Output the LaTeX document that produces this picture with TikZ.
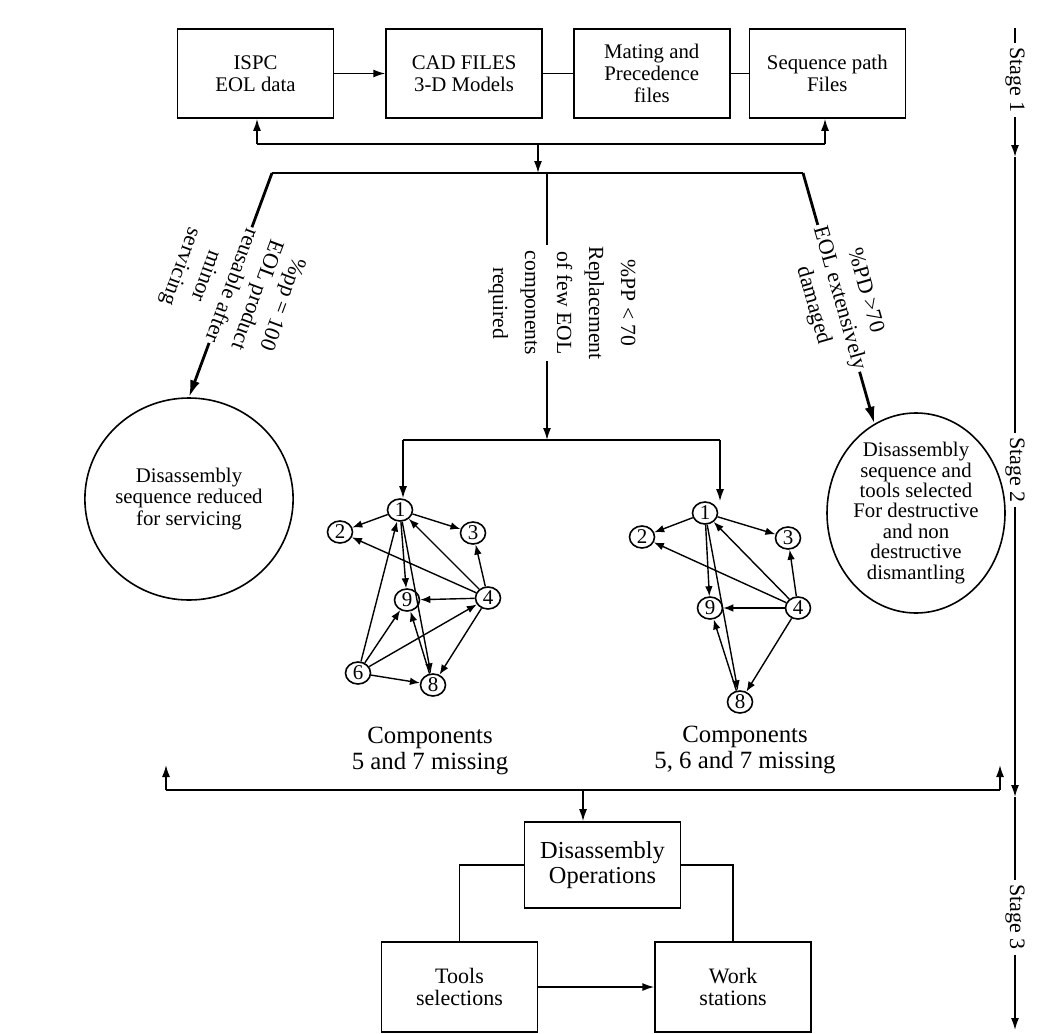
\documentclass[tikz,border=0pt]{standalone}
\usepackage{fontspec}
\setmainfont{Liberation Serif}
\usetikzlibrary{positioning,arrows.meta,shapes.geometric}
\tikzset{
  box/.style={draw, minimum width=78pt, minimum height=44.5pt, align=center, inner sep=1pt, font=\fontsize{10.4}{11}\selectfont},
  bbox/.style={draw, minimum width=78pt, minimum height=45pt, align=center, inner sep=1pt, font=\fontsize{11}{10.8}\selectfont},
  ell/.style={draw, ellipse, inner sep=0pt, align=center, font=\fontsize{10.4}{10.4}\selectfont},
  gn/.style={draw, ellipse, on grid, minimum width=12.5pt, minimum height=11pt, inner sep=0pt, font=\fontsize{10.5}{11}\selectfont},
  lbl/.style={fill=white, align=center, inner sep=1pt, font=\fontsize{11}{13.5}\selectfont},
  cmp/.style={align=center, inner sep=1pt, font=\fontsize{12.4}{12.6}\selectfont},
  stg/.style={rotate=-90, inner sep=2pt, font=\fontsize{11}{12}\selectfont},
  arr/.style={-{Latex[length=6pt,width=4pt]}},
  bigarr/.style={-{Latex[length=8.5pt,width=5pt]}},
  garr/.style={-{Latex[length=5pt,width=3.8pt]}, line width=0.7pt}
}
\begin{document}
\begin{tikzpicture}[x=0.5pt, y=-0.5pt, line width=0.8pt]
   \useasboundingbox (0,0) rectangle (1043,1033);

   \node[box] (b1) at (255.5,73.5) {ISPC\\EOL data};
   \node[box, right=25.5pt of b1] (b2) {CAD FILES\\3-D Models};
   \node[box, right=15pt of b2] (b3) {Mating and\\Precedence\\files};
   \node[box, right=9pt of b3] (b4) {Sequence path\\Files};

   \draw[arr] (b1) -- (b2);
   \draw (b2) -- (b3);
   \draw (b3) -- (b4);

   \coordinate (f1) at (257,144);
   \coordinate (f2) at (825,144);
   \coordinate (f3) at (538,144);
   \coordinate (c1) at (272,173);
   \coordinate (c2) at (803,173);

   \draw[arr] (f1) -- (f1 |- b1.south);
   \draw[arr] (f2) -- (f2 |- b4.south);
   \draw (f1) -- (f2);
   \draw[arr] (f3) -- (f3 |- c1);
   \draw[line width=1.4pt] (c1) -- (c2);

   \node[ell, minimum width=90pt, minimum height=101pt, font=\fontsize{10.4}{10.8}\selectfont] (e1) at (189,499) {Disassembly\\sequence reduced\\for servicing};
   \node[ell, minimum width=89pt, minimum height=100pt, font=\fontsize{10.4}{10.2}\selectfont] (e2) at (916,513) {Disassembly\\sequence and\\tools selected\\For destructive\\and non\\destructive\\dismantling};

   \draw[line width=1.4pt, bigarr] (c1) -- node[lbl, sloped, allow upside down] (l1) {\%pp = 100\\EOL product\\reusable after\\minor\\servicing} (e1.north);
   \draw[line width=1.4pt, bigarr] (c2) -- node[lbl, sloped] (l3) {\%PD >70\\EOL extensively\\damaged} (e2.115);

   \coordinate (m1) at (547,173);
   \coordinate (m2) at (547,440);
   \coordinate (j1) at (403,440);
   \coordinate (j2) at (720,440);
   \draw[arr] (m1) -- (m2);
   \node[lbl, rotate=-90, font=\fontsize{10.8}{16}\selectfont] (l2) at (562,303) {\%PP < 70\\Replacement\\of few EOL\\components\\required};

   \node[gn] (g1) at (400,510) {1};
   \node[gn, below left=11pt and 30pt of g1] (g2) {2};
   \node[gn, below right=11.5pt and 36.5pt of g1] (g3) {3};
   \node[gn, below right=45pt and 3.5pt of g1] (g9) {9};
   \node[gn, below right=44pt and 44pt of g1] (g4) {4};
   \node[gn, below left=81.5pt and 21pt of g1] (g6) {6};
   \node[gn, below right=87.5pt and 16.5pt of g1] (g8) {8};

   \node[gn] (h1) at (705,513) {1};
   \node[gn, below left=12pt and 31.5pt of h1] (h2) {2};
   \node[gn, below right=12.5pt and 41.5pt of h1] (h3) {3};
   \node[gn, below right=47.5pt and 2.5pt of h1] (h9) {9};
   \node[gn, below right=47.5pt and 46.5pt of h1] (h4) {4};
   \node[gn, below right=94.5pt and 17.5pt of h1] (h8) {8};

   \foreach \a/\b in {1/2,1/3,4/2,4/1,4/3,4/9,4/8,1/9,1/8,6/1,6/9,6/4,6/8,8/9}
      \draw[garr] (g\a) -- (g\b);
   \foreach \a/\b in {1/2,1/3,4/2,4/1,4/3,4/9,4/8,1/9,1/8,8/9}
      \draw[garr] (h\a) -- (h\b);

   \draw (j1) -- (j2);
   \draw[arr] (j1) -- (j1 |- g1.north);
   \draw[arr] (j2) -- (j2 |- h1.north);

   \node[cmp] (n1) at (430,751) {Components\\5 and 7 missing};
   \node[cmp] (n2) at (745,750) {Components\\5, 6 and 7 missing};

   \coordinate (k1) at (166,790);
   \coordinate (k2) at (1000,790);
   \coordinate (k3) at (166,765);
   \coordinate (k4) at (1000,765);
   \coordinate (k5) at (583,790);
   \draw (k1) -- (k2);
   \draw[arr] (k1) -- (k3);
   \draw[arr] (k2) -- (k4);

   \node[box, minimum height=43pt, font=\fontsize{12.2}{12.6}\selectfont] (d0) at (602.5,865) {Disassembly\\Operations};
   \draw[arr] (k5) -- (k5 |- d0.north);
   \node[bbox] (d1) at (459.5,987) {Tools\\selections};
   \node[bbox, right=58pt of d1] (d2) {Work\\stations};
   \draw (d0.west) -| (d1.north);
   \draw (d0.east) -| (d2.north);
   \draw[arr] (d1) -- (d2);

   \coordinate (s0) at (1015,28);
   \coordinate (s1) at (1015,157);
   \coordinate (s2) at (1015,797);
   \coordinate (s3) at (1015,1030);
   \node[stg] (t1) at (1015,80) {Stage 1};
   \node[stg] (t2) at (1015,470) {Stage 2};
   \node[stg] (t3) at (1015,917) {Stage 3};
   \draw (s0) -- (t1);
   \draw[arr] (t1) -- (s1);
   \draw (s1) -- (t2);
   \draw[arr] (t2) -- (s2);
   \draw (s2) -- (t3);
   \draw[arr] (t3) -- (s3);
\end{tikzpicture}
\end{document}
